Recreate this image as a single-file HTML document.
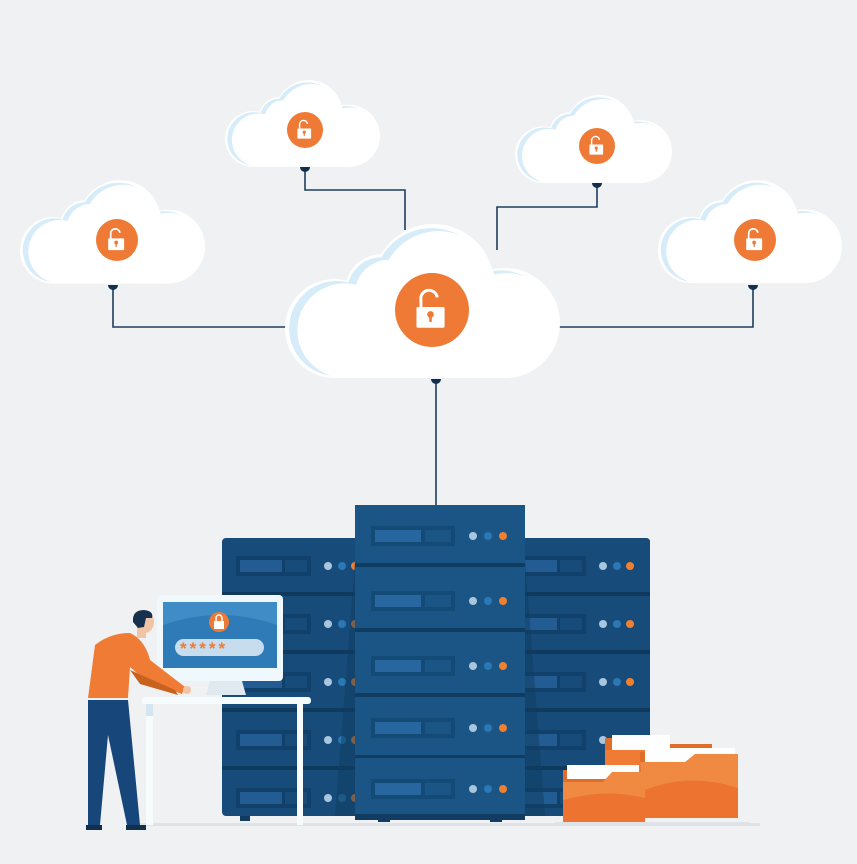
<!DOCTYPE html>
<html><head><meta charset="utf-8"><style>
html,body{margin:0;padding:0;background:#f0f1f3;}
svg{display:block;}
</style></head><body>
<svg width="857" height="864" viewBox="0 0 857 864" xmlns="http://www.w3.org/2000/svg">
<defs>
  <g id="cloudW">
    <circle cx="18" cy="38" r="18"/>
    <circle cx="35" cy="24" r="13"/>
    <circle cx="54" cy="22" r="22"/>
    <circle cx="80" cy="36" r="20"/>
    <rect x="14" y="30" width="72" height="26" rx="6"/>
  </g>
  <g id="cloud">
    <g fill="#fff"><use href="#cloudW"/></g>
    <g fill="#d6ecf8" transform="translate(1.5,1.5) scale(0.96)"><use href="#cloudW"/></g>
    <g fill="#fff" transform="translate(4.5,2.6) scale(0.95)"><use href="#cloudW"/></g>
  </g>
  <g id="lock">
    <circle r="1" fill="#ee7a35"/>
    <path d="M-0.3,-0.05 V-0.28 A0.22,0.22 0 0 1 0.14,-0.34" fill="none" stroke="#fff" stroke-width="0.08"/>
    <rect x="-0.42" y="-0.08" width="0.76" height="0.56" rx="0.04" fill="#fff"/>
    <circle cx="-0.04" cy="0.12" r="0.09" fill="#ee7a35"/>
    <rect x="-0.075" y="0.14" width="0.07" height="0.18" fill="#ee7a35"/>
  </g>
  <g id="unitC">
    <rect x="0" y="0" width="170" height="62" fill="#1a5585"/>
    <rect x="0" y="58" width="170" height="4" fill="#0f3c60"/>
    <rect x="16" y="21" width="84" height="20" fill="#134a76"/>
    <rect x="20" y="25" width="46" height="12" fill="#2866a0"/>
    <rect x="70" y="25" width="26" height="12" fill="#1a5585"/>
    <circle cx="118" cy="31" r="4" fill="#a9c6df"/>
    <circle cx="133" cy="31" r="4" fill="#2a78b5"/>
    <circle cx="148" cy="31" r="4" fill="#f08030"/>
  </g>
  <g id="unitS">
    <rect x="0" y="0" width="160" height="58" fill="#174c7a"/>
    <rect x="0" y="54" width="160" height="4" fill="#0f3a5e"/>
    <rect x="14" y="18" width="75" height="20" fill="#11416b"/>
    <rect x="18" y="22" width="42" height="12" fill="#235c92"/>
    <rect x="63" y="22" width="22" height="12" fill="#174c7a"/>
    <circle cx="106" cy="28" r="4" fill="#a9c6df"/>
    <circle cx="120" cy="28" r="4" fill="#2a78b5"/>
    <circle cx="133" cy="28" r="4" fill="#f08030"/>
  </g>
  <clipPath id="cl"><rect x="222" y="538" width="140" height="278" rx="4"/></clipPath>
  <clipPath id="cr"><rect x="518" y="538" width="132" height="278" rx="4"/></clipPath>
</defs>

<!-- connectors -->
<g fill="none" stroke="#1d3f5e" stroke-width="1.6">
  <path d="M113,287 V327 H290"/>
  <path d="M305,170 V190 H405 V230"/>
  <path d="M597,185 V207 H497 V250"/>
  <path d="M753,287 V327 H555"/>
  <path d="M436,382 V506"/>
</g>
<g fill="#10304e">
  <path d="M108,285 h10 a5,5 0 0 1 -10,0z"/>
  <path d="M300,167 h10 a5,5 0 0 1 -10,0z"/>
  <path d="M592,183 h10 a5,5 0 0 1 -10,0z"/>
  <path d="M748,285 h10 a5,5 0 0 1 -10,0z"/>
  <path d="M431,379 h10 a5,5 0 0 1 -10,0z"/>
</g>

<!-- clouds -->
<use href="#cloud" transform="translate(20,180) scale(1.85)"/>
<use href="#cloud" transform="translate(225,80) scale(1.55)"/>
<use href="#cloud" transform="translate(515,95) scale(1.57)"/>
<use href="#cloud" transform="translate(658,180) scale(1.84)"/>
<use href="#cloud" transform="translate(285,224) scale(2.75)"/>

<use href="#lock" transform="translate(117,240) scale(21)"/>
<use href="#lock" transform="translate(305,130) scale(18)"/>
<use href="#lock" transform="translate(597,146) scale(18)"/>
<use href="#lock" transform="translate(755,240) scale(21)"/>
<use href="#lock" transform="translate(432,310) scale(37)"/>

<!-- servers -->
<g clip-path="url(#cl)">
  <use href="#unitS" transform="translate(222,538)"/>
  <use href="#unitS" transform="translate(222,596)"/>
  <use href="#unitS" transform="translate(222,654)"/>
  <use href="#unitS" transform="translate(222,712)"/>
  <use href="#unitS" transform="translate(222,770)"/>
</g>
<g clip-path="url(#cr)">
  <rect x="518" y="538" width="132" height="278" fill="#174c7a"/>
  <use href="#unitS" transform="translate(497,538)"/>
  <use href="#unitS" transform="translate(497,596)"/>
  <use href="#unitS" transform="translate(497,654)"/>
  <use href="#unitS" transform="translate(497,712)"/>
  <use href="#unitS" transform="translate(497,770)"/>
  <rect x="640" y="538" width="10" height="278" fill="#174c7a"/>
  <rect x="640" y="592" width="10" height="4" fill="#0f3a5e"/>
  <rect x="640" y="650" width="10" height="4" fill="#0f3a5e"/>
  <rect x="640" y="708" width="10" height="4" fill="#0f3a5e"/>
  <rect x="640" y="766" width="10" height="4" fill="#0f3a5e"/>
</g>
<path d="M355,560 L335,816 H355Z M525,560 L545,816 H525Z" fill="#0f3c60" opacity="0.5"/>
<rect x="355" y="505" width="170" height="311" rx="6" fill="#1a5585"/>
<use href="#unitC" transform="translate(355,505)"/>
<use href="#unitC" transform="translate(355,570)"/>
<use href="#unitC" transform="translate(355,635)"/>
<use href="#unitC" transform="translate(355,697)"/>
<use href="#unitC" transform="translate(355,758)"/>
<rect x="355" y="814" width="170" height="4" fill="#0f3c60"/>
<rect x="378" y="816" width="12" height="6" fill="#0f3c60"/>
<rect x="490" y="816" width="12" height="6" fill="#0f3c60"/>
<rect x="240" y="816" width="10" height="5" fill="#0f3c60"/>
<rect x="625" y="816" width="10" height="5" fill="#0f3c60"/>
<rect x="140" y="823" width="620" height="3" fill="#dfe3e8"/>

<!-- monitor & desk -->
<rect x="157" y="595" width="126" height="86" rx="4" fill="#eef8fd"/>
<rect x="163" y="602" width="114" height="66" fill="#2f7bb8"/>
<path d="M163,602 H277 V625 Q220,605 163,625Z" fill="#3f8cc6"/>
<circle cx="219" cy="622" r="10" fill="#ee7a35"/>
<rect x="214" y="621" width="10" height="8" fill="#fff"/>
<path d="M216,621 v-3 a3,3 0 0 1 6,0 v3" fill="none" stroke="#fff" stroke-width="1.5"/>
<rect x="175" y="639" width="89" height="17" rx="8.5" fill="#c7dcec"/>
<text x="180" y="654" font-family="Liberation Sans, sans-serif" font-size="17" font-weight="bold" fill="#ee7a35" letter-spacing="3">*****</text>
<path d="M210,681 H242 L246,695 H206Z" fill="#dfe9ef"/>
<rect x="142" y="697" width="169" height="7" rx="3" fill="#f6fbfe"/>
<rect x="146" y="704" width="7" height="121" fill="#f6fbfe"/>
<rect x="146" y="704" width="7" height="12" fill="#d5e5ef"/>
<rect x="297" y="704" width="6" height="121" fill="#f6fbfe"/>

<!-- person -->
<path d="M88,700 H128 L140,825 H127 L108,735 L100,825 H88Z" fill="#17467a"/>
<rect x="86" y="825" width="16" height="5" fill="#10304e"/>
<rect x="126" y="825" width="20" height="5" fill="#10304e"/>
<path d="M95,645 Q110,633 130,633 Q145,640 150,660 L185,687 L182,694 L145,680 L130,667 L128,698 H88Z" fill="#ef7b34"/>
<path d="M130,670 L175,690 L178,695 L140,684Z" fill="#c9611f"/>
<rect x="137" y="626" width="9" height="12" fill="#f2c4a6"/>
<ellipse cx="145" cy="622" rx="9" ry="11" fill="#f2c4a6"/>
<path d="M133,622 Q132,610 144,610 Q154,611 152,618 L146,618 L144,627 L138,628Z" fill="#17304d"/>
<circle cx="187" cy="690" r="4" fill="#f2c4a6"/>

<!-- folders -->
<path d="M605,738 V778 H712 V744 H668 L662,738Z" fill="#e06d28"/>
<rect x="612" y="735" width="58" height="16" fill="#fff"/>
<path d="M605,750 H712 V778 H605Z" fill="#ef7b34"/>
<path d="M640,752 V818 H738 V755 H692 L686,750Z" fill="#e06d28"/>
<rect x="645" y="748" width="90" height="14" fill="#fff"/>
<path d="M640,762 H685 L695,754 H738 V818 H645Z" fill="#f08a43"/>
<path d="M645,790 Q690,772 738,788 V818 H645Z" fill="#ec7430"/>
<path d="M563,770 V822 H645 V776 H606 L600,770Z" fill="#e06d28"/>
<rect x="567" y="765" width="72" height="14" fill="#fff"/>
<path d="M563,782 H603 L612,772 H645 V822 H563Z" fill="#f08a43"/>
<path d="M563,800 Q605,788 645,798 V822 H563Z" fill="#ec7430"/>
<rect x="555" y="822" width="195" height="3" fill="#dfe3e8"/>
</svg>
</body></html>
